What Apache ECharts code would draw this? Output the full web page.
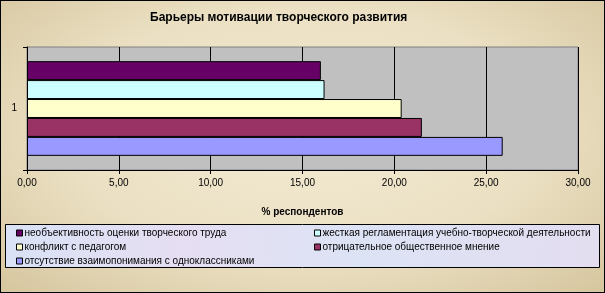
<!DOCTYPE html>
<html lang="ru">
<head>
    <meta charset="UTF-8">
    <title>Барьеры мотивации</title>
    <script src="https://cdn.jsdelivr.net/npm/echarts@6/dist/echarts.min.js"></script>
    <style>
        html, body { margin: 0; padding: 0; }
        #main {
            width: 603px; height: 291px;
            border: 1px solid #000;
            background: radial-gradient(ellipse at 50% 45%, #f3ead2 0%, #ebe0c3 55%, #d6c69f 100%);
        }
    </style>
</head>
<body>
<div id="main"></div>
<script type="text/javascript">

    // данные
    const categories = ['1'];
    const seriesNames = [
        'необъективность оценки творческого труда',
        'жесткая регламентация учебно-творческой деятельности',
        'конфликт с педагогом',
        'отрицательное общественное мнение',
        'отсутствие взаимопонимания с одноклассниками'
    ];
    const seriesValues = [16.0, 16.2, 20.4, 21.5, 25.9];
    const seriesColors = ['#660066', '#ccffff', '#ffffcc', '#993366', '#9999ff'];
    const xTicks = [0, 5, 10, 15, 20, 25, 30];

    function fmt(v) {
        return v.toFixed(2).replace('.', ',');
    }

    let myChart = echarts.init(document.getElementById('main'));

    const series = seriesNames.map(function (name, i) {
        return {
            name: name,
            type: 'bar',
            data: [seriesValues[i]],
            barGap: '0%',
            barCategoryGap: '23%',
            itemStyle: { color: seriesColors[i], borderColor: '#000', borderWidth: 1 }
        };
    });

    const legendCommon = {
        orient: 'vertical',
        padding: 0,
        itemWidth: 6,
        itemHeight: 6,
        itemGap: 4,
        icon: 'rect',
        selectedMode: false,
        itemStyle: { borderColor: '#000', borderWidth: 1 },
        textStyle: { fontSize: 10, color: '#000', fontFamily: 'Liberation Sans, Arial', padding: [0, 0, 0, -3] }
    };

    const option = {
        animation: false,
        title: {
            text: 'Барьеры мотивации творческого развития',
            left: 144,
            top: 6,
            textStyle: { fontSize: 12, fontWeight: 'bold', color: '#000', fontFamily: 'Liberation Sans, Arial' }
        },
        graphic: [{
            type: 'rect',
            left: 4, top: 223,
            shape: { width: 594, height: 43 },
            style: {
                fill: new echarts.graphic.LinearGradient(0, 0, 1, 1, [
                    { offset: 0, color: '#d9e2f6' },
                    { offset: 0.3, color: '#e6def2' },
                    { offset: 0.6, color: '#dce3f5' },
                    { offset: 1, color: '#e4ddf0' }
                ]),
                stroke: '#000', lineWidth: 1
            },
            z: -1
        }],
        legend: [
            Object.assign({}, legendCommon, {
                left: 15, top: 227,
                data: [seriesNames[0], seriesNames[2], seriesNames[4]]
            }),
            Object.assign({}, legendCommon, {
                left: 313, top: 227,
                data: [seriesNames[1], seriesNames[3]]
            })
        ],
        grid: {
            left: 26, right: 26, top: 46, bottom: 122,
            show: true,
            backgroundColor: '#c0c0c0',
            borderColor: '#808080',
            borderWidth: 1
        },
        xAxis: {
            type: 'value',
            min: xTicks[0],
            max: xTicks[xTicks.length - 1],
            interval: 5,
            name: '% респондентов',
            nameLocation: 'middle',
            nameGap: 37,
            nameTextStyle: { fontSize: 10, fontWeight: 'bold', color: '#000', fontFamily: 'Liberation Sans, Arial' },
            axisLine: { show: true, lineStyle: { color: '#000' } },
            axisTick: { show: true, length: 4, lineStyle: { color: '#000' } },
            splitLine: { show: true, lineStyle: { color: '#000', width: 1 } },
            axisLabel: { fontSize: 10, color: '#000', margin: 8, fontFamily: 'Liberation Sans, Arial', formatter: fmt }
        },
        yAxis: {
            type: 'category',
            data: categories,
            axisLine: { show: true, lineStyle: { color: '#000' } },
            axisTick: { show: true, length: 4, lineStyle: { color: '#000' } },
            axisLabel: { fontSize: 10, color: '#000', margin: 10, fontFamily: 'Liberation Sans, Arial' }
        },
        series: series
    };
    myChart.setOption(option);
</script>
</body>
</html>
